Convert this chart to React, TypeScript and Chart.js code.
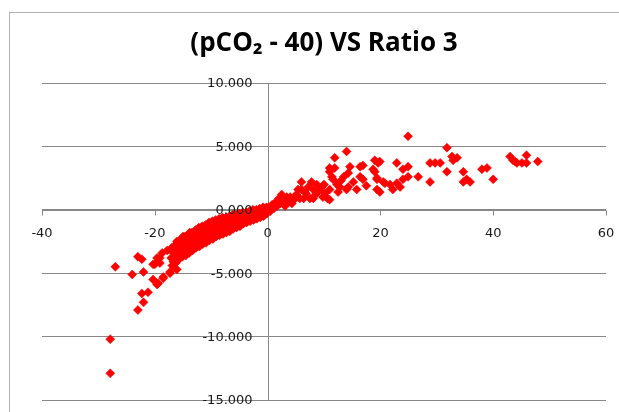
import React, { useEffect, useRef } from "react";
import { Chart, registerables } from "chart.js";

Chart.register(...registerables);

const TITLE = "(pCO₂ - 40) VS Ratio 3";
const X_MIN = -40;
const X_MAX = 60;
const X_STEP = 20;
const Y_MIN = -15;
const Y_MAX = 10;
const Y_STEP = 5;

const lowerTail: [number, number][] = [
  [-27.9, -10.2], [-27.9, -12.9], [-27.0, -4.5], [-24.0, -5.1], [-23.0, -3.7],
  [-22.3, -3.9], [-22.0, -4.9], [-23.0, -7.9], [-22.0, -7.3], [-22.3, -6.6],
  [-21.2, -6.5], [-20.3, -5.5], [-19.6, -5.9], [-20.0, -4.3], [-20.3, -4.3],
  [-19.1, -3.8], [-19.6, -3.8], [-19.1, -4.2], [-18.7, -3.4], [-18.5, -5.3],
  [-18.5, -5.4], [-19.4, -5.8], [-17.8, -3.2], [-17.3, -4.9], [-17.3, -5.0],
  [-16.1, -4.7], [-16.1, -2.5], [-15.0, -2.1], [-13.8, -1.8],
];

const leftBand: [number, number][] = [
  [-17.0, -3.0], [-17.1, -3.8], [-16.9, -4.4], [-16.4, -2.8], [-16.5, -3.5],
  [-16.3, -4.2], [-15.8, -2.5], [-15.9, -3.2], [-15.7, -3.9], [-15.2, -2.3],
  [-15.3, -3.0], [-15.1, -3.7], [-14.6, -2.1], [-14.7, -2.8], [-14.5, -3.6],
  [-14.0, -1.9], [-14.1, -2.6], [-13.9, -3.4], [-13.4, -1.8], [-13.5, -2.5],
  [-13.3, -3.2], [-12.8, -1.6], [-12.9, -2.3], [-12.7, -3.0], [-12.2, -1.4],
  [-12.3, -2.1], [-12.1, -2.9], [-11.6, -1.3], [-11.7, -2.0], [-11.5, -2.7],
  [-11.0, -1.2], [-11.1, -1.9], [-10.9, -2.6], [-10.4, -1.0], [-10.5, -1.7],
  [-10.3, -2.4],
];

const leftFill: [number, number][] = [
  [-16.7, -3.4], [-16.7, -4.1], [-16.1, -3.1], [-16.1, -3.8], [-15.5, -2.7],
  [-15.5, -3.5], [-14.9, -2.5], [-14.9, -3.3], [-14.3, -2.3], [-14.3, -3.0],
  [-13.7, -2.2], [-13.7, -2.9], [-13.1, -2.0], [-13.1, -2.7], [-12.5, -1.8],
  [-12.5, -2.5], [-11.9, -1.7], [-11.9, -2.4], [-11.3, -1.5], [-11.3, -2.2],
  [-10.7, -1.4], [-10.7, -2.0], [-10.1, -1.3], [-10.1, -1.9],
];

const midBand: [number, number][] = [
  [-9.8, -0.9], [-9.9, -1.6], [-9.7, -2.3], [-9.2, -0.8], [-9.3, -1.4],
  [-9.1, -2.1], [-8.6, -0.7], [-8.7, -1.3], [-8.5, -2.0], [-8.0, -0.6],
  [-8.1, -1.2], [-7.9, -1.9], [-7.4, -0.6], [-7.5, -1.1], [-7.3, -1.8],
  [-6.8, -0.5], [-6.9, -1.0], [-6.7, -1.7], [-6.2, -0.4], [-6.3, -0.9],
  [-6.1, -1.5], [-5.6, -0.4], [-5.7, -0.8], [-5.5, -1.4], [-5.0, -0.3],
  [-5.1, -0.7], [-4.9, -1.3], [-4.4, -0.2], [-4.5, -0.6], [-4.3, -1.1],
  [-3.8, -0.2], [-3.9, -0.5], [-3.7, -1.0], [-3.2, -0.1], [-3.3, -0.4],
  [-3.1, -0.9], [-2.6, 0.0], [-2.7, -0.3], [-2.5, -0.8], [-2.0, 0.0],
  [-2.1, -0.3], [-1.9, -0.7], [-1.4, 0.1], [-1.5, -0.2], [-1.3, -0.6],
  [-0.8, 0.2], [-0.9, -0.1], [-0.7, -0.5], [-0.2, 0.2], [-0.3, 0.0],
  [-0.1, -0.3],
];

const midFill: [number, number][] = [
  [-9.5, -1.1], [-9.5, -1.8], [-8.9, -1.0], [-8.9, -1.6], [-8.3, -0.9],
  [-8.3, -1.5], [-7.7, -0.8], [-7.7, -1.4], [-7.1, -0.7], [-7.1, -1.3],
  [-6.5, -0.7], [-6.5, -1.2], [-5.9, -0.6], [-5.9, -1.1], [-5.3, -0.5],
  [-5.3, -1.0], [-4.7, -0.4], [-4.7, -0.9], [-4.1, -0.3], [-4.1, -0.8],
  [-3.5, -0.3], [-3.5, -0.7], [-2.9, -0.2], [-2.9, -0.6], [-2.3, -0.1],
  [-2.3, -0.5], [-1.7, -0.1], [-1.7, -0.4], [-1.1, 0.0], [-1.1, -0.3],
  [-0.5, 0.1], [-0.5, -0.2],
];

const rightBand: [number, number][] = [
  [0.2, 0.2], [0.5, -0.1], [0.8, 0.4], [1.1, 0.1], [1.4, 0.6], [1.7, 0.3],
  [2.0, 0.9], [2.2, 0.5], [2.5, 1.2], [2.8, 0.6], [3.1, 0.3], [3.4, 1.0],
  [3.7, 0.7], [4.0, 1.0], [4.3, 0.5], [4.7, 0.8], [5.1, 1.2], [5.4, 1.6],
  [5.7, 0.9], [6.0, 2.2], [6.0, 1.6], [6.4, 0.9], [6.8, 1.3], [7.2, 1.8],
  [7.5, 0.9], [7.8, 2.2], [8.1, 1.6], [8.1, 0.9], [8.5, 1.2], [8.7, 2.0],
  [9.1, 1.5], [9.6, 1.8], [9.8, 1.0], [10.2, 1.3], [10.6, 0.9], [11.0, 0.8],
  [11.0, 1.6], [11.4, 2.6], [11.6, 2.4], [11.0, 3.0], [11.0, 3.3], [11.9, 3.3],
  [11.9, 4.1], [12.3, 2.0], [12.5, 1.4], [13.0, 2.3], [14.0, 4.6], [14.0, 1.6],
  [14.3, 1.8], [14.3, 2.9], [14.6, 3.4], [15.2, 2.2], [15.8, 1.6], [16.4, 3.4],
  [16.4, 2.6], [16.9, 2.4], [16.9, 3.5], [10.0, 2.0], [12.8, 1.8], [13.5, 2.6],
];

const farRight: [number, number][] = [
  [17.5, 1.9], [18.7, 3.2], [19.0, 3.9], [19.0, 3.0], [19.4, 2.4], [19.4, 1.6],
  [19.4, 2.5], [19.6, 3.7], [19.9, 1.4], [19.9, 3.8], [20.5, 2.2], [20.8, 2.1],
  [21.7, 2.0], [22.2, 1.6], [22.9, 3.7], [22.9, 2.1], [23.5, 1.8], [24.0, 3.2],
  [24.0, 2.4], [24.9, 3.4], [24.9, 2.6], [24.9, 5.8], [26.7, 2.6], [28.8, 3.7],
  [28.8, 2.2], [29.7, 3.7], [30.6, 3.7], [31.8, 4.9], [31.8, 3.0], [32.7, 4.2],
  [32.9, 3.9], [33.6, 4.1], [34.7, 3.0], [34.7, 2.2], [35.3, 2.4], [35.9, 2.2],
  [38.0, 3.2], [38.9, 3.3], [40.0, 2.4], [43.0, 4.2], [43.5, 3.9], [43.9, 3.8],
  [44.2, 3.7], [45.1, 3.7], [45.9, 4.3], [45.9, 3.7], [47.9, 3.8],
];

const GRID = "#888888";
const TICK_FONT = "13px 'DejaVu Sans', sans-serif";

export default function App() {
  const ref = useRef<HTMLCanvasElement | null>(null);

  useEffect(() => {
    document.body.style.margin = "0";
    const canvas = ref.current;
    if (!canvas) return;
    const points = [
      ...lowerTail,
      ...leftBand,
      ...leftFill,
      ...midBand,
      ...midFill,
      ...rightBand,
      ...farRight,
    ].map(([x, y]) => ({ x, y }));

    const framePlugin = {
      id: "frame",
      beforeDraw(chart: any) {
        const ctx = chart.ctx;
        ctx.save();
        ctx.fillStyle = "#ffffff";
        ctx.fillRect(0, 0, chart.width, chart.height);
        ctx.strokeStyle = "#b4b4b4";
        ctx.lineWidth = 1;
        ctx.strokeRect(9.5, 12.5, chart.width + 20, chart.height + 20);
        ctx.restore();
      },
      beforeDatasetsDraw(chart: any) {
        const ctx = chart.ctx;
        const area = chart.chartArea;
        const xs = chart.scales.x;
        const ys = chart.scales.y;
        const x0 = Math.round(xs.getPixelForValue(0)) + 0.5;
        const y0 = Math.round(ys.getPixelForValue(0)) + 0.5;
        ctx.save();
        ctx.strokeStyle = GRID;
        ctx.lineWidth = 1;
        ctx.beginPath();
        ctx.moveTo(area.left, y0);
        ctx.lineTo(area.right, y0);
        ctx.moveTo(x0, area.top);
        ctx.lineTo(x0, area.bottom);
        xs.ticks.forEach((t: any) => {
          const px = Math.round(xs.getPixelForValue(t.value)) + 0.5;
          ctx.moveTo(px, y0);
          ctx.lineTo(px, y0 + 5);
        });
        ctx.stroke();
        ctx.restore();
      },
      afterDatasetsDraw(chart: any) {
        const ctx = chart.ctx;
        const xs = chart.scales.x;
        const ys = chart.scales.y;
        const x0 = xs.getPixelForValue(0);
        ctx.save();
        ctx.fillStyle = "#1a1a1a";
        ctx.font = TICK_FONT;
        ctx.textAlign = "right";
        ctx.textBaseline = "middle";
        ys.ticks.forEach((t: any) => {
          ctx.fillText(Number(t.value).toFixed(3), x0 - 15, ys.getPixelForValue(t.value) + 1);
        });
        ctx.restore();
      },
      afterDraw(chart: any) {
        const ctx = chart.ctx;
        const area = chart.chartArea;
        ctx.save();
        ctx.fillStyle = "#000000";
        ctx.font = "bold 26px 'Open Sans', 'Noto Sans', sans-serif";
        ctx.textAlign = "center";
        ctx.textBaseline = "alphabetic";
        ctx.fillText(TITLE, (area.left + area.right) / 2, 51);
        ctx.restore();
      },
    };

    const zeroPadding = (scale: any) => {
      scale.paddingLeft = 0;
      scale.paddingRight = 0;
      scale.paddingTop = 0;
      scale.paddingBottom = 0;
    };

    const chart = new Chart(canvas, {
      type: "scatter",
      data: {
        datasets: [
          {
            data: points,
            pointStyle: "rectRot",
            pointRadius: 4.5,
            pointHoverRadius: 4.5,
            backgroundColor: "#ff0000",
            borderColor: "#ff0000",
            borderWidth: 0.5,
          },
        ],
      },
      options: {
        responsive: false,
        animation: false,
        layout: { autoPadding: false, padding: { left: 42, right: 13, top: 83, bottom: 12 } },
        plugins: {
          legend: { display: false },
          title: { display: false },
          tooltip: { enabled: false },
        },
        scales: {
          x: {
            type: "linear",
            position: { y: 0 } as any,
            min: X_MIN,
            max: X_MAX,
            afterFit: zeroPadding,
            ticks: {
              stepSize: X_STEP,
              color: "#1a1a1a",
              padding: 16,
              z: 1,
              font: { family: "'DejaVu Sans', sans-serif", size: 13 },
            },
            grid: {
              drawOnChartArea: false,
              drawTicks: false,
              color: "rgba(0,0,0,0)",
            },
            border: { display: false },
          },
          y: {
            type: "linear",
            position: { x: 0 } as any,
            min: Y_MIN,
            max: Y_MAX,
            afterFit: zeroPadding,
            ticks: {
              stepSize: Y_STEP,
              display: false,
            },
            grid: { drawTicks: false, color: GRID },
            border: { display: false },
          },
        },
      },
      plugins: [framePlugin],
    });
    return () => chart.destroy();
  }, []);

  return (
    <canvas
      ref={ref}
      width={619}
      height={412}
      style={{ display: "block", width: 619, height: 412 }}
    />
  );
}
